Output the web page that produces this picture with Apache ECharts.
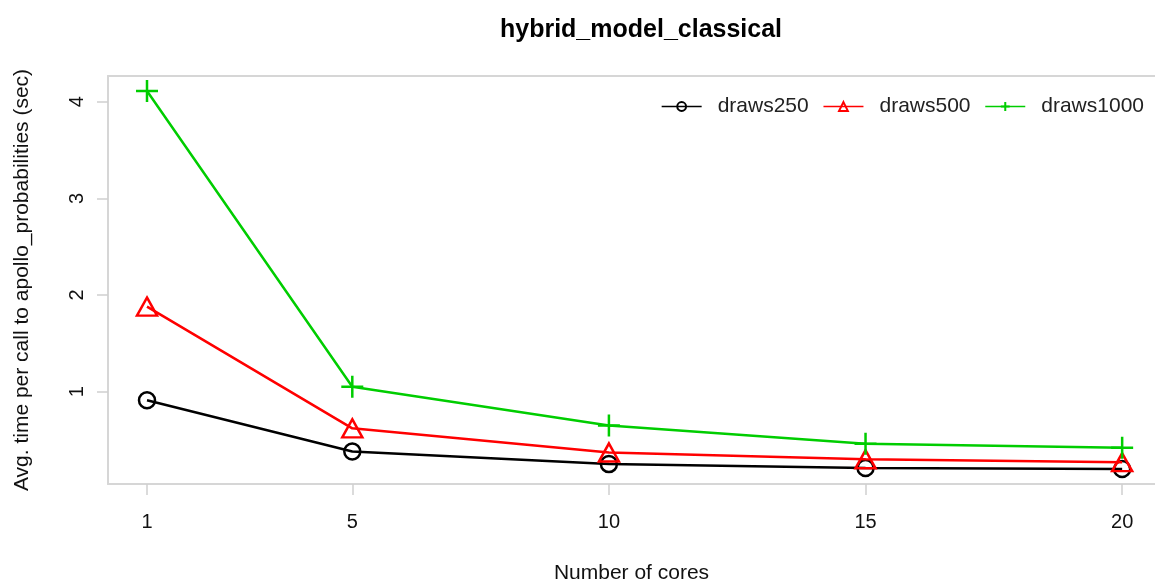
<!DOCTYPE html>
<html>
<head>
<meta charset="utf-8">
<script src="https://cdn.jsdelivr.net/npm/echarts@6/dist/echarts.min.js"></script>
<style>html,body{margin:0;padding:0;background:#fff;}#c{width:1155px;height:584px;}</style>
</head>
<body>
<div id="c"></div>
<script>
var cores = [1, 5, 10, 15, 20];
var draws250 = [0.91, 0.38, 0.25, 0.21, 0.20];
var draws500 = [1.88, 0.62, 0.37, 0.30, 0.27];
var draws1000 = [4.11, 1.05, 0.65, 0.46, 0.42];
var xTicks = [1, 5, 10, 15, 20];
var yTicks = [1, 2, 3, 4];

function pairs(ys) { return cores.map(function (c, i) { return [c, ys[i]]; }); }

var font = 'Liberation Sans, Arial, sans-serif';
var boxLine = {show: true, lineStyle: {color: '#d6d6d6', width: 2}};
var chart = echarts.init(document.getElementById('c'), null, {renderer: 'canvas'});
chart.setOption({
  animation: false,
  backgroundColor: '#fff',
  title: {
    text: 'hybrid_model_classical', left: 636, top: 13, textAlign: 'center',
    textStyle: {fontFamily: font, fontSize: 25, fontWeight: 'bold', color: '#000'}
  },
  legend: {
    right: 6, top: 91, itemWidth: 40, itemHeight: 11, itemGap: 14,
    textStyle: {fontFamily: font, fontSize: 21, color: '#222', padding: [0, 0, 0, 11]},
    lineStyle: {width: 1.5},
    data: ['draws250', 'draws500', 'draws1000']
  },
  grid: {left: 108, top: 76, right: 0, height: 408, show: false, outerBoundsMode: 'none', containLabel: false},
  xAxis: [{
    type: 'value', min: 0.24, max: 20.64,
    name: 'Number of cores', nameLocation: 'middle', nameGap: 79,
    nameTextStyle: {fontFamily: font, fontSize: 21, color: '#111'},
    axisLine: boxLine,
    splitLine: {show: false},
    axisTick: {show: true, inside: false, length: 11, customValues: xTicks, lineStyle: {color: '#cfcfcf', width: 1.5}},
    axisLabel: {customValues: xTicks, margin: 28, fontFamily: font, fontSize: 20, color: '#111'}
  }, {
    type: 'value', min: 0.24, max: 20.64, position: 'top',
    axisLine: boxLine, axisTick: {show: false}, axisLabel: {show: false}, splitLine: {show: false}
  }],
  yAxis: {
    type: 'value', min: 0.044, max: 4.266,
    name: 'Avg. time per call to apollo_probabilities (sec)', nameLocation: 'middle', nameGap: 75,
    nameTextStyle: {fontFamily: font, fontSize: 21, color: '#111'},
    axisLine: boxLine,
    splitLine: {show: false},
    axisTick: {show: true, inside: false, length: 11, customValues: yTicks, lineStyle: {color: '#cfcfcf', width: 1.5}},
    axisLabel: {customValues: yTicks, rotate: 90, margin: 21, fontFamily: font, fontSize: 20, color: '#111'}
  },
  series: [
    {name: 'draws250', type: 'line', data: pairs(draws250), symbol: 'circle', symbolSize: 16,
     lineStyle: {color: '#000', width: 2.5}, itemStyle: {color: 'rgba(0,0,0,0)', borderColor: '#000', borderWidth: 2.5}, z: 3},
    {name: 'draws500', type: 'line', data: pairs(draws500), symbol: 'triangle', symbolSize: [20, 18],
     lineStyle: {color: '#ff0000', width: 2.5}, itemStyle: {color: 'rgba(0,0,0,0)', borderColor: '#ff0000', borderWidth: 2.5}, z: 4},
    {name: 'draws1000', type: 'line', data: pairs(draws1000), symbol: 'path://M10,0 L10,20 M0,10 L20,10', symbolSize: 22,
     lineStyle: {color: '#00cd00', width: 2.5}, itemStyle: {color: 'rgba(0,0,0,0)', borderColor: '#00cd00', borderWidth: 2.5}, z: 5}
  ]
});
</script>
</body>
</html>
